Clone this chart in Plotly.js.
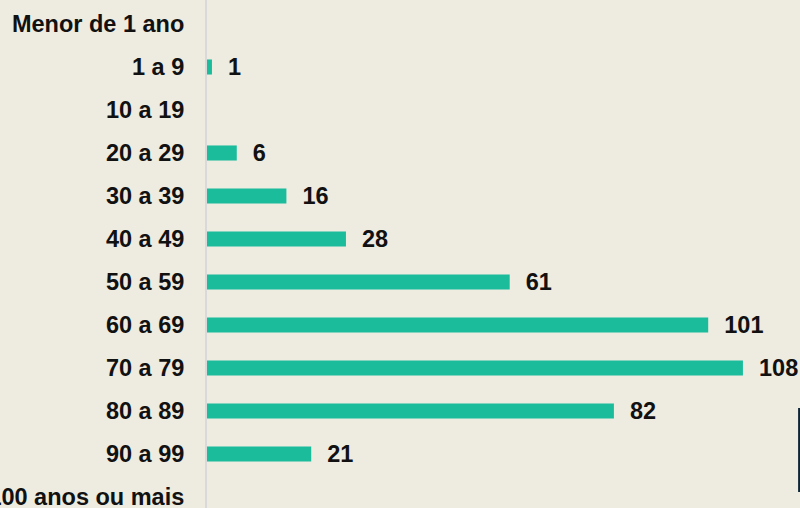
<!DOCTYPE html>
<html>
<head>
<meta charset="utf-8">
<script src="https://cdn.plot.ly/plotly-3.0.1.min.js"></script>
<style>html,body{margin:0;padding:0;background:#EEEBE0;}#chart{width:800px;height:508px;}</style>
</head>
<body>
<div id="chart"></div>
<script>
const categories = ["Menor de 1 ano","1 a 9","10 a 19","20 a 29","30 a 39","40 a 49","50 a 59","60 a 69","70 a 79","80 a 89","90 a 99","100 anos ou mais"];
const values = [0,1,0,6,16,28,61,101,108,82,21,0];
const labels = values.map(v => v ? "\u00A0\u00A0" + v : "");

const font = {family: "Arial, 'Liberation Sans', sans-serif", size: 23.5, color: "#111111", weight: "bold"};

const trace = {
  type: "bar",
  orientation: "h",
  x: values,
  y: categories,
  width: 0.35,
  marker: {color: "#1ABC9C"},
  text: labels,
  textposition: "outside",
  constraintext: "none",
  textfont: font,
  cliponaxis: false,
  hoverinfo: "none"
};

const layout = {
  width: 800, height: 508,
  margin: {l: 207, r: 0, t: 0, b: 0, pad: 0},
  paper_bgcolor: "#EEEBE0",
  plot_bgcolor: "#EEEBE0",
  showlegend: false,
  font: font,
  xaxis: {range: [0, 119.5], showgrid: false, zeroline: false, showticklabels: false, showline: false, fixedrange: true},
  yaxis: {
    type: "category",
    categoryorder: "array", categoryarray: categories,
    range: [11.256, -0.558],
    showgrid: false, zeroline: false,
    showline: true, linecolor: "#D9D9D9", linewidth: 2,
    ticks: "", ticklabelstandoff: 16,
    tickfont: font,
    automargin: false
  },
  shapes: [{type: "line", xref: "paper", yref: "paper", x0: 0.9985, x1: 0.9985, y0: 0.0315, y1: 0.197, line: {color: "#0D2536", width: 2}}]
};

Plotly.newPlot("chart", [trace], layout, {staticPlot: true, displayModeBar: false});
</script>
</body>
</html>
